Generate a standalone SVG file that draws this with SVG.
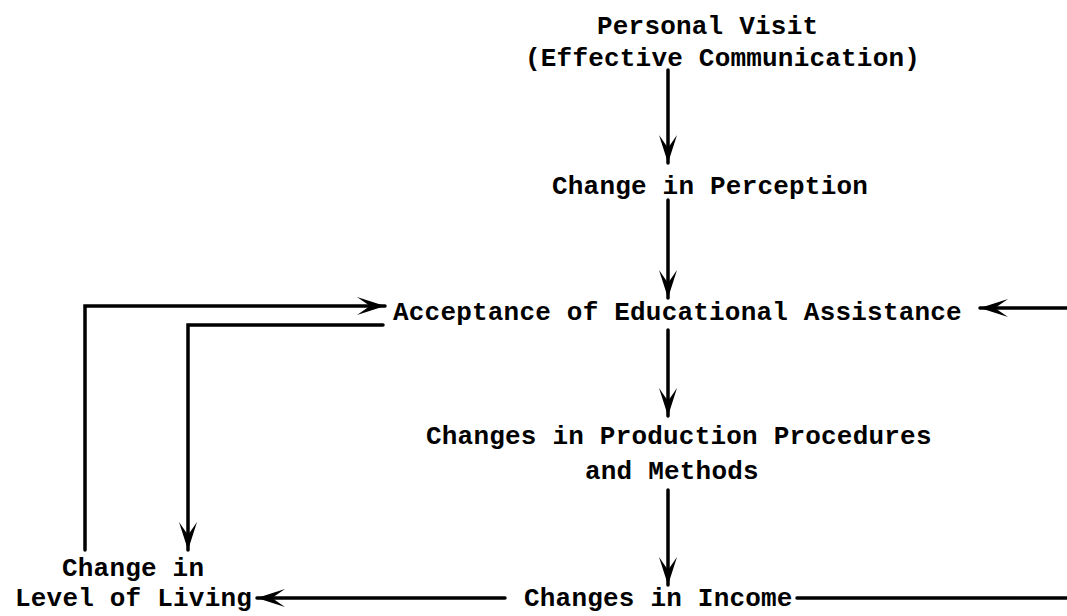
<svg xmlns="http://www.w3.org/2000/svg" width="1067" height="616" viewBox="0 0 1067 616">
<defs>
<style>
text{font-family:"Liberation Mono","DejaVu Sans Mono",monospace;font-weight:bold;font-size:26px;letter-spacing:0.2px;fill:#000}
.ln{fill:none;stroke:#000;stroke-width:3.5;stroke-linecap:round;stroke-linejoin:miter}
</style>
<marker id="ah" markerUnits="userSpaceOnUse" markerWidth="40" markerHeight="30" viewBox="-30 -15 40 30" refX="0" refY="0" orient="auto">
<path d="M0,0 L-28,-9 L-15,0 L-28,9 Z" fill="#000"/>
</marker>
</defs>
<rect width="1067" height="616" fill="#fff"/>
<g id="n1"><text x="597" y="34">Personal Visit</text><text x="525" y="66">(Effective Communication)</text></g>
<g id="n2"><text x="552" y="194">Change in Perception</text></g>
<g id="n3"><text x="393" y="320">Acceptance of Educational Assistance</text></g>
<g id="n4"><text x="426" y="444">Changes in Production Procedures</text><text x="585" y="479">and Methods</text></g>
<g id="n5"><text x="524" y="606">Changes in Income</text></g>
<g id="n6"><text x="62" y="576">Change in</text><text x="15" y="606">Level of Living</text></g>
<g id="connectors">
<path class="ln" d="M668,70 L668,163" marker-end="url(#ah)"/>
<path class="ln" d="M668,200 L668,298" marker-end="url(#ah)"/>
<path class="ln" d="M668,330 L668,416" marker-end="url(#ah)"/>
<path class="ln" d="M668,490 L668,585" marker-end="url(#ah)"/>
<path class="ln" d="M505,598 L257,598" marker-end="url(#ah)"/>
<path class="ln" d="M797,598 L1067,598"/>
<path class="ln" d="M1067,308 L980,308" marker-end="url(#ah)"/>
<path class="ln" d="M85,550 L85,306 L385,306" marker-end="url(#ah)"/>
<path class="ln" d="M383,325 L188,325 L188,550" marker-end="url(#ah)"/>
</g>
</svg>
